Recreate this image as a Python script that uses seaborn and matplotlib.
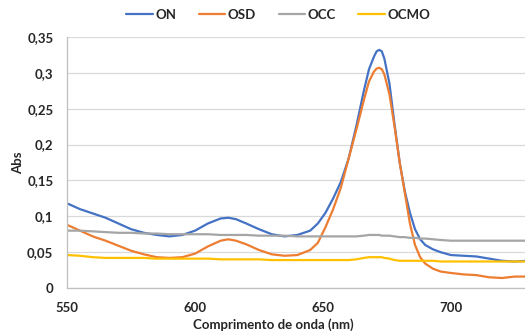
import pandas as pd
import seaborn as sns
import matplotlib.pyplot as plt

# comprimentos de onda (nm)
wl = [550, 555, 560, 565, 570, 575, 580, 585, 590, 595, 600, 605, 610, 613, 616,
      620, 625, 630, 635, 640, 645, 648, 651, 654, 657, 660, 663, 666, 668, 670,
      671, 672, 673, 674, 676, 678, 680, 682, 684, 686, 688, 690, 693, 696, 700,
      705, 710, 715, 720, 725, 730]

on = [0.118, 0.110, 0.104, 0.098, 0.090, 0.082, 0.077, 0.074, 0.072, 0.074, 0.080,
      0.090, 0.097, 0.098, 0.096, 0.090, 0.082, 0.075, 0.072, 0.074, 0.080, 0.090,
      0.105, 0.125, 0.148, 0.180, 0.225, 0.275, 0.305, 0.323, 0.330, 0.332, 0.330,
      0.320, 0.285, 0.228, 0.175, 0.135, 0.105, 0.082, 0.068, 0.060, 0.054, 0.050,
      0.046, 0.045, 0.044, 0.041, 0.038, 0.037, 0.038]

osd = [0.088, 0.080, 0.072, 0.066, 0.059, 0.052, 0.047, 0.043, 0.042, 0.043, 0.048,
       0.058, 0.066, 0.068, 0.066, 0.061, 0.053, 0.047, 0.045, 0.046, 0.053, 0.063,
       0.085, 0.110, 0.140, 0.180, 0.220, 0.262, 0.288, 0.302, 0.306, 0.307, 0.305,
       0.298, 0.270, 0.225, 0.175, 0.133, 0.090, 0.060, 0.043, 0.034, 0.027, 0.023,
       0.021, 0.019, 0.018, 0.015, 0.014, 0.016, 0.016]

occ = [0.080, 0.080, 0.079, 0.078, 0.077, 0.077, 0.076, 0.076, 0.075, 0.075, 0.075,
       0.075, 0.074, 0.074, 0.074, 0.074, 0.073, 0.073, 0.073, 0.072, 0.072, 0.072,
       0.072, 0.072, 0.072, 0.072, 0.072, 0.073, 0.074, 0.074, 0.074, 0.074, 0.073,
       0.073, 0.073, 0.072, 0.071, 0.071, 0.070, 0.070, 0.069, 0.069, 0.068, 0.067,
       0.066, 0.066, 0.066, 0.066, 0.066, 0.066, 0.066]

ocmo = [0.046, 0.045, 0.043, 0.042, 0.042, 0.042, 0.042, 0.041, 0.041, 0.041, 0.041,
        0.041, 0.040, 0.040, 0.040, 0.040, 0.040, 0.039, 0.039, 0.039, 0.039, 0.039,
        0.039, 0.039, 0.039, 0.039, 0.040, 0.042, 0.043, 0.043, 0.043, 0.043, 0.043,
        0.042, 0.041, 0.039, 0.038, 0.038, 0.038, 0.038, 0.038, 0.038, 0.038, 0.037,
        0.037, 0.037, 0.037, 0.037, 0.037, 0.037, 0.037]

series = ["ON", "OSD", "OCC", "OCMO"]
cores = ["#4472C4", "#ED7D31", "#A5A5A5", "#FFC000"]

df = pd.concat([
    pd.DataFrame({"wl": wl, "abs": v, "amostra": s})
    for s, v in zip(series, [on, osd, occ, ocmo])
])

sns.set_style("white")
plt.rcParams["font.family"] = ["Lato", "DejaVu Sans"]
plt.rcParams["font.weight"] = "bold"

fig = plt.figure(figsize=(5.25, 3.33), dpi=100)
ax = fig.add_axes([0.128, 0.135, 0.872, 0.754])

sns.lineplot(data=df, x="wl", y="abs", hue="amostra", palette=cores,
             hue_order=series, linewidth=1.6, ax=ax)

ax.set_xlim(550, 729)
ax.set_ylim(0, 0.35)
ax.set_xticks([550, 600, 650, 700])
yt = [0, 0.05, 0.1, 0.15, 0.2, 0.25, 0.3, 0.35]
ax.set_yticks(yt)
ax.set_yticklabels(["0", "0,05", "0,1", "0,15", "0,2", "0,25", "0,3", "0,35"])
ax.tick_params(axis="both", length=0, labelsize=9.5, pad=10)
for lab in ax.get_xticklabels() + ax.get_yticklabels():
    lab.set_fontweight("bold")

ax.yaxis.grid(True, color="#d9d9d9", linewidth=0.9)
ax.set_axisbelow(True)
for side in ["top", "right"]:
    ax.spines[side].set_visible(False)
for side in ["left", "bottom"]:
    ax.spines[side].set_color("#bfbfbf")
    ax.spines[side].set_linewidth(0.9)

ax.set_xlabel("Comprimento de onda (nm)", fontsize=9.5, fontweight="bold")
ax.set_ylabel("Abs", fontsize=9.5, fontweight="bold")
ax.xaxis.set_label_coords(0.45, -0.122)
ax.yaxis.set_label_coords(-0.095, 0.5)

handles, labels = ax.get_legend_handles_labels()
ax.legend(handles, labels, loc="center", bbox_to_anchor=(0.53, 0.955),
          bbox_transform=fig.transFigure, ncol=4, frameon=False,
          handlelength=2.0, handletextpad=0.2, columnspacing=1.7,
          prop={"size": 9.5, "weight": "bold"})

fig.savefig("out.png", dpi=100)
